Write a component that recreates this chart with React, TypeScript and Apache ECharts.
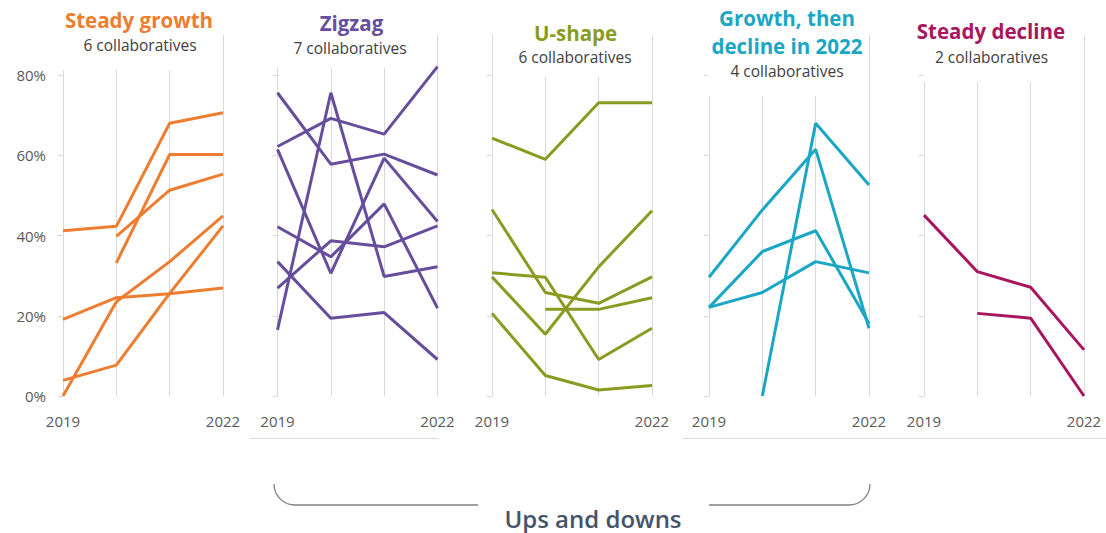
import React, { useEffect, useRef } from 'react';
import * as echarts from 'echarts';

const years = ['2019', '2020', '2021', '2022'];
const yTickValues = [0, 20, 40, 60, 80];

const steadyGrowth = [
  [41.2, 42.3, 68.0, 70.6],
  [null, 39.8, 51.3, 55.3],
  [null, 33.2, 60.2, 60.2],
  [19.1, 24.5, 25.5, 26.9],
  [0.0, 23.5, 33.5, 44.9],
  [3.9, 7.7, 25.6, 42.4],
];

const zigzag = [
  [75.6, 57.8, 60.3, 55.1],
  [62.2, 69.2, 65.3, 82.1],
  [61.5, 30.6, 59.3, 43.5],
  [42.2, 34.7, 47.9, 21.9],
  [33.5, 19.4, 20.8, 9.1],
  [26.9, 38.7, 37.2, 42.4],
  [16.5, 75.6, 29.8, 32.2],
];

const uShape = [
  [64.3, 59.0, 73.1, 73.1],
  [46.5, 25.8, 23.1, 29.7],
  [30.7, 29.6, 9.1, 16.9],
  [29.7, 15.4, 32.2, 46.2],
  [20.6, 5.1, 1.5, 2.6],
  [null, 21.6, 21.6, 24.5],
];

const growthThenDecline = [
  [29.6, 46.4, 61.5, 16.9],
  [22.1, 36.0, 41.2, 18.1],
  [22.1, 25.8, 33.5, 30.7],
  [null, 0.0, 68.0, 52.6],
];

const steadyDecline = [
  [45.1, 31.0, 27.1, 11.5],
  [null, 20.6, 19.4, 0.0],
];

const panelData = [steadyGrowth, zigzag, uShape, growthThenDecline, steadyDecline];
const panelColors = ['#ED7D31', '#664E9C', '#8A9B22', '#1BA6C6', '#A8165F'];
const panelTitles = [['Steady growth'], ['Zigzag'], ['U-shape'], ['Growth, then', 'decline in 2022'], ['Steady decline']];
const panelSubtitles = ['6 collaboratives', '7 collaboratives', '6 collaboratives', '4 collaboratives', '2 collaboratives'];
const groupLabel = 'Ups and downs';

// layout (pixels)
const gridLefts = [63, 277.5, 492, 709, 924];
const gridWidth = 160;
const gridTop = 35;
const gridHeight = 361;
const titleLayout = [
  { x: 139, ys: [20], subX: 140, subY: 45 },
  { x: 351.5, ys: [22.5], subX: 350, subY: 48 },
  { x: 575.5, ys: [32.5], subX: 575, subY: 57 },
  { x: 787, ys: [17.5, 45.5], subX: 787, subY: 71 },
  { x: 991, ys: [30.5], subX: 991.5, subY: 57 },
];
const coverBoxes = [
  { x0: 62.5, x1: 219, y1: 70 },
  { x0: 277, x1: 433, y1: 68 },
  { x0: 500, x1: 650, y1: 77 },
  { x0: 708.5, x1: 866, y1: 96 },
  { x0: 924, x1: 1078, y1: 82 },
];

const GRID_COLOR = '#d9d9d9';
const LABEL_COLOR = '#595959';
const FONT = "'Open Sans', 'Noto Sans', sans-serif";

export default function App() {
  const ref = useRef<HTMLDivElement>(null);

  useEffect(() => {
    if (!ref.current) return;
    const chart = echarts.init(ref.current, null, { renderer: 'svg' });

    const grids = gridLefts.map((left) => ({ left, top: gridTop, width: gridWidth, height: gridHeight, containLabel: false }));
    const xAxes = gridLefts.map((_, i) => ({
      type: 'category',
      gridIndex: i,
      data: years,
      boundaryGap: false,
      axisLine: { show: false },
      axisTick: { show: false },
      splitLine: { show: true, interval: 0, lineStyle: { color: GRID_COLOR, width: 1 } },
      axisLabel: {
        interval: 0,
        margin: 17,
        color: LABEL_COLOR,
        fontSize: 15,
        fontFamily: FONT,
        formatter: (v: string, idx: number) => (idx === 0 || idx === years.length - 1 ? v : ''),
      },
    }));
    const yAxes = gridLefts.map((_, i) => ({
      type: 'value',
      gridIndex: i,
      min: 0,
      max: 90,
      splitLine: { show: false },
      axisLine: { show: true, lineStyle: { color: GRID_COLOR, width: 1 } },
      axisTick: { show: true, length: 5, customValues: yTickValues, lineStyle: { color: GRID_COLOR } },
      axisLabel: {
        show: i === 0,
        customValues: yTickValues,
        margin: 17,
        color: LABEL_COLOR,
        fontSize: 15,
        fontFamily: FONT,
        formatter: (v: number) => `${v}%`,
      },
    }));

    const series: any[] = [];
    panelData.forEach((lines, i) => {
      lines.forEach((d, j) => {
        series.push({
          type: 'line',
          name: `${panelTitles[i].join(' ')} ${j + 1}`,
          xAxisIndex: i,
          yAxisIndex: i,
          data: d.map((v) => (v === null ? '-' : v)),
          symbol: 'none',
          showSymbol: false,
          connectNulls: false,
          lineStyle: { width: 3, color: panelColors[i] },
          itemStyle: { color: panelColors[i] },
          z: 3,
        });
      });
    });

    const graphics: any[] = [];
    coverBoxes.forEach((b) => {
      graphics.push({
        type: 'rect',
        z: 1,
        silent: true,
        shape: { x: b.x0, y: 0, width: b.x1 - b.x0, height: b.y1 },
        style: { fill: '#ffffff' },
      });
    });
    titleLayout.forEach((t, i) => {
      panelTitles[i].forEach((line, k) => {
        graphics.push({
          type: 'text',
          z: 10,
          x: t.x,
          y: t.ys[k],
          style: {
            text: line,
            fill: panelColors[i],
            font: `bold 20.5px ${FONT}`,
            textAlign: 'center',
            textVerticalAlign: 'middle',
          },
        });
      });
      graphics.push({
        type: 'text',
        z: 10,
        x: t.subX,
        y: t.subY,
        style: {
          text: panelSubtitles[i],
          fill: '#404040',
          font: `15.5px ${FONT}`,
          textAlign: 'center',
          textVerticalAlign: 'middle',
        },
      });
    });
    // baseline rules under the year labels
    graphics.push({ type: 'line', z: 1, shape: { x1: 250, y1: 438.5, x2: 439, y2: 438.5 }, style: { stroke: GRID_COLOR, lineWidth: 1 } });
    graphics.push({ type: 'line', z: 1, shape: { x1: 683, y1: 438.5, x2: 1106, y2: 438.5 }, style: { stroke: GRID_COLOR, lineWidth: 1 } });
    // bracket
    const braceStyle = { stroke: '#808080', lineWidth: 1.3, fill: 'none' };
    graphics.push({ type: 'arc', z: 1, shape: { cx: 295, cy: 484, r: 21, startAngle: Math.PI / 2, endAngle: Math.PI, clockwise: true }, style: braceStyle });
    graphics.push({ type: 'line', z: 1, shape: { x1: 295, y1: 505, x2: 478, y2: 505 }, style: braceStyle });
    graphics.push({ type: 'line', z: 1, shape: { x1: 709, y1: 505, x2: 849, y2: 505 }, style: braceStyle });
    graphics.push({ type: 'arc', z: 1, shape: { cx: 849, cy: 484, r: 21, startAngle: 0, endAngle: Math.PI / 2, clockwise: true }, style: braceStyle });
    graphics.push({
      type: 'text',
      z: 10,
      x: 593,
      y: 518,
      style: {
        text: groupLabel,
        fill: '#44546A',
        font: `600 24px ${FONT}`,
        textAlign: 'center',
        textVerticalAlign: 'middle',
      },
    });

    chart.setOption({
      animation: false,
      textStyle: { fontFamily: FONT },
      grid: grids,
      xAxis: xAxes,
      yAxis: yAxes,
      series,
      graphic: { elements: graphics },
    });

    return () => chart.dispose();
  }, []);

  return <div ref={ref} style={{ position: 'absolute', left: 0, top: 0, width: 1106, height: 533 }} />;
}
